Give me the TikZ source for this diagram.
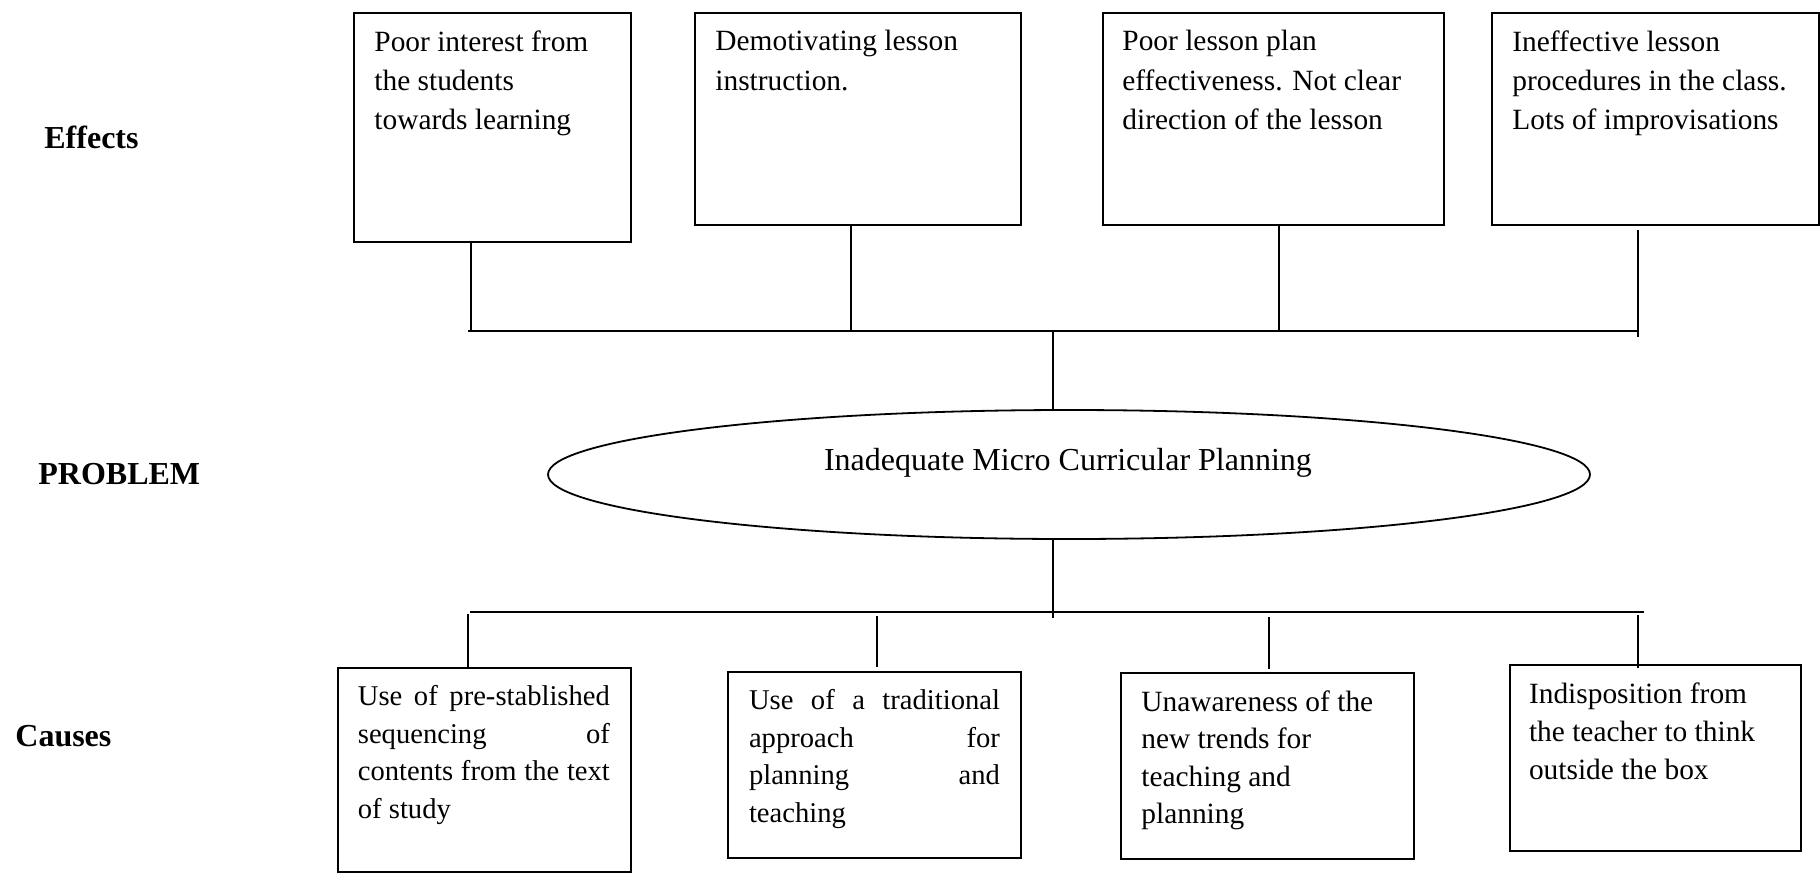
\documentclass[tikz,border=0pt]{standalone}
\usepackage{fontspec}
\setmainfont{Liberation Serif}
\usepackage{tikz}
\usetikzlibrary{shapes.geometric}

\tikzset{
	box/.style={draw, line width=0.9pt, anchor=north west, inner sep=0pt},
	boxtext/.style={anchor=north west, inner sep=0pt, align=left, font=\fontsize{14.7}{19.7}\selectfont},
	justtext/.style={anchor=north west, inner sep=0pt, align=justify, font=\fontsize{14.3}{18.75}\selectfont},
	side/.style={anchor=west, inner sep=0pt, font=\fontsize{16}{18}\selectfont\bfseries},
	link/.style={line width=0.9pt}
}

\begin{document}
\begin{tikzpicture}[x=1pt, y=1pt]
	\useasboundingbox (0,0) rectangle (910,-436.5);
	\node[side] (effects) at (22,-68.5) {Effects};
	\node[side] (problem) at (19,-237) {PROBLEM};
	\node[side] (causes) at (7.5,-368) {Causes};

	\node[box, minimum width=138.5pt, minimum height=114.5pt] (e1) at (176.5,-6) {};
	\node[box, minimum width=163pt, minimum height=106pt] (e2) at (347,-6) {};
	\node[box, minimum width=170.5pt, minimum height=106pt] (e3) at (551,-6) {};
	\node[box, minimum width=163.5pt, minimum height=106pt] (e4) at (745.5,-6) {};
	\node[boxtext] (e1t) at ([shift={(10.5,-9)}]e1.north west) {Poor interest from\\the students\\towards learning};
	\node[boxtext] (e2t) at ([shift={(10.5,-9)}]e2.north west) {Demotivating lesson\\instruction.};
	\node[boxtext] (e3t) at ([shift={(10,-9)}]e3.north west) {Poor lesson plan\\effectiveness. Not clear\\direction of the lesson};
	\node[boxtext] (e4t) at ([shift={(10.5,-9)}]e4.north west) {Ineffective lesson\\procedures in the class.\\Lots of improvisations};

	\node[draw, ellipse, line width=0.9pt, minimum width=521pt, minimum height=64.5pt] (prob) at (534.5,-237.25) {};
	\node[font=\fontsize{16}{18}\selectfont, inner sep=0pt] (probt) at (534,-231.3) {Inadequate Micro Curricular Planning};

	\node[box, minimum width=146.5pt, minimum height=102pt] (c1) at (168.5,-333.5) {};
	\node[box, minimum width=146.5pt, minimum height=93pt] (c2) at (363.5,-335.5) {};
	\node[box, minimum width=146.5pt, minimum height=93pt] (c3) at (560,-336) {};
	\node[box, minimum width=145.5pt, minimum height=93pt] (c4) at (754.5,-332) {};
	\node[justtext, text width=126pt] (c1t) at ([shift={(10.25,-9)}]c1.north west) {Use of pre-stablished\linebreak sequencing of\linebreak contents from the text\linebreak of study};
	\node[justtext, text width=125.5pt] (c2t) at ([shift={(10.8,-9)}]c2.north west) {Use of a traditional\linebreak approach for\linebreak planning and\linebreak teaching};
	\node[boxtext, font=\fontsize{14.7}{18.75}\selectfont] (c3t) at ([shift={(10.5,-9)}]c3.north west) {Unawareness of the\\new trends for\\teaching and\\planning};
	\node[boxtext, font=\fontsize{14.7}{19.2}\selectfont] (c4t) at ([shift={(9.8,-9)}]c4.north west) {Indisposition from\\the teacher to think\\outside the box};

	\coordinate (tl) at (234,-165.5);
	\coordinate (tr) at (819,-165.5);
	\coordinate (a1) at (235.5,-165.5);
	\coordinate (a2) at (425.5,-165.5);
	\coordinate (a3) at (639.5,-165.5);
	\coordinate (a4) at (819,-168.5);
	\coordinate (a4top) at (819,-115);
	\coordinate (m1) at (526.5,-165.5);
	\draw[link] (tl) -- (tr);
	\draw[link] (e1.south -| a1) -- (a1);
	\draw[link] (e2.south -| a2) -- (a2);
	\draw[link] (e3.south -| a3) -- (a3);
	\draw[link] (a4top) -- (a4);
	\draw[link] (m1) -- (m1 |- prob.north);

	\coordinate (bl) at (235,-306);
	\coordinate (br) at (822,-306);
	\coordinate (m2) at (526.5,-309);
	\coordinate (b1) at (234,-307);
	\coordinate (b2) at (438.5,-308);
	\coordinate (b3) at (634.5,-308.5);
	\coordinate (b4) at (819,-307.5);
	\draw[link] (bl) -- (br);
	\draw[link] (m1 |- prob.south) -- (m2);
	\draw[link] (b1) -- (b1 |- c1.north);
	\draw[link] (b2) -- ([yshift=2pt]b2 |- c2.north);
	\draw[link] (b3) -- ([yshift=1.5pt]b3 |- c3.north);
	\draw[link] (b4) -- ([yshift=-2pt]b4 |- c4.north);
\end{tikzpicture}
\end{document}
